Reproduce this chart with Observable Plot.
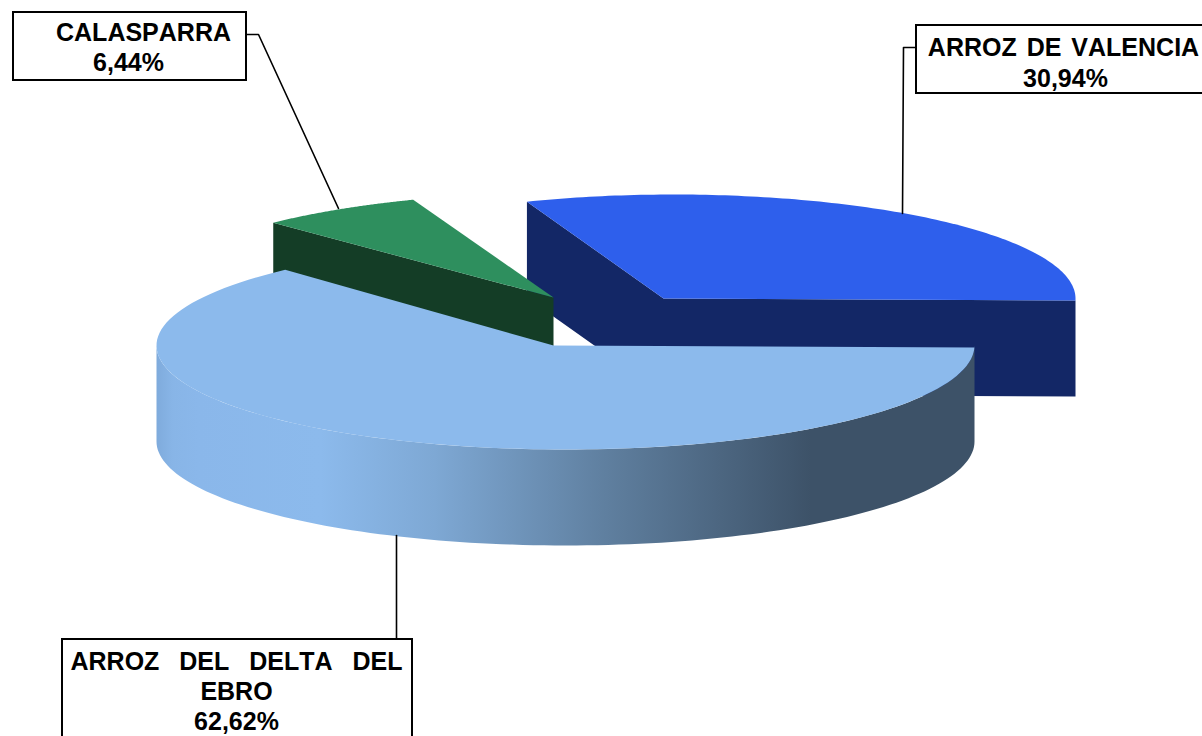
<!DOCTYPE html>
<html>
<head>
<meta charset="utf-8">
<script src="https://cdn.jsdelivr.net/npm/d3@7"></script>
<script src="https://cdn.jsdelivr.net/npm/@observablehq/plot@0.6"></script>
<style>html,body{margin:0;padding:0;background:#fff}svg{display:block}</style>
</head>
<body>
<div id="chart"></div>
<script>
// ---- data ----
const categories = ["ARROZ DE VALENCIA", "CALASPARRA", "ARROZ DEL DELTA DEL EBRO"];
const shares = [30.94, 6.44, 62.62];
const shareLabels = ["30,94%", "6,44%", "62,62%"];

// ---- layout (pixels of the picture) ----
const W = 1202, H = 736;
const depth = 96;
// vx,vy: apex of the slice; cx,rx,ry: ellipse of its rim
const pies = [
  {vx: 663, vy: 298, cx: 673, rx: 402, ry: 104, top: "#2e5fec", side: "#132766"},
  {vx: 553, vy: 297, cx: 564, rx: 415, ry: 105, top: "#2e8f5e", side: "#143d26"},
  {vx: 553, vy: 345, cx: 565, rx: 409, ry: 104, top: "#8cbaec", side: "url(#sideGrad)"}
];
const tilt = 2;
const deltaStartNudge = -1.3;
const gradStops = [[0, "#7fabdc"], [0.02, "#88b5e7"], [0.05, "#8ab7ea"], [0.2, "#8cbaec"], [0.34, "#7ea8d4"], [0.55, "#5f7f9f"], [0.8, "#3d5268"], [1, "#3d5268"]];

// ---- geometry from the shares ----
const toRad = d => d * Math.PI / 180;
let acc = 0;
const slices = shares.map((v, i) => {
  const a0 = acc; acc += v;
  return {i, a0: a0 * 3.6, a1: acc * 3.6};   // degrees counter-clockwise from east
});
const ex = (i, a) => pies[i].cx + pies[i].rx * Math.cos(toRad(a));
const ey = (i, a) => pies[i].vy - pies[i].ry * Math.sin(toRad(a));

const poly = [];
function add(id, fill, pts) { pts.forEach(p => poly.push({id, fill, x: p[0], y: p[1]})); }

const arc = (i, a0, a1, dy = 0) => d3.range(0, 121).map(k => {
  const a = a0 + (a1 - a0) * k / 120;
  return [ex(i, a), ey(i, a) + dy];
});

// Valencia: wall then top
{
  const s = slices[0], p = pies[0];
  const e = [ex(0, s.a1), ey(0, s.a1)];
  const r = [ex(0, 0), ey(0, 0) + tilt];
  add("v-w", p.side, [e, [p.vx, p.vy], r, [r[0], r[1] + depth], [p.vx, p.vy + depth], [e[0], e[1] + depth]]);
  add("v-top", p.top, [[p.vx, p.vy], ...arc(0, s.a1, s.a0), r]);
}
// Calasparra: wall then top
{
  const s = slices[1], p = pies[1];
  const e = [ex(1, s.a1), ey(1, s.a1)];
  add("c-w", p.side, [e, [p.vx, p.vy], [p.vx, p.vy + depth], [e[0], e[1] + depth]]);
  add("c-top", p.top, [[p.vx, p.vy], ...arc(1, s.a0, s.a1)]);
}
// Delta: outer wall then top
{
  const s = slices[2], p = pies[2];
  add("d-w", p.side, [...arc(2, 180, 360), ...arc(2, 360, 180, depth)]);
  add("d-top", p.top, [[p.vx, p.vy], ...arc(2, s.a0 + deltaStartNudge, s.a1), [ex(2, 0), ey(2, 0) + tilt]]);
}

// ---- labels ----
const boxes = [
  {x1: 13, x2: 246, y1: 12, y2: 80},
  {x1: 916, x2: 1210, y1: 25, y2: 93},
  {x1: 62, x2: 412, y1: 639, y2: 745}
];
const leaders = [
  {id: 0, x: 246, y: 34}, {id: 0, x: 258, y: 34}, {id: 0, x: 338, y: 208},
  {id: 1, x: 916, y: 47}, {id: 1, x: 903, y: 47}, {id: 1, x: 902, y: 213},
  {id: 2, x: 396, y: 639}, {id: 2, x: 396, y: 535}
];
const texts = [
  {t: categories[1], x: 143, y: 32},
  {t: shareLabels[1], x: 128, y: 62},
  {t: categories[0], x: 1063, y: 47},
  {t: shareLabels[0], x: 1065, y: 78},
  {t: "ARROZ DEL DELTA DEL", x: 236, y: 661},
  {t: "EBRO", x: 236, y: 691},
  {t: shareLabels[2], x: 236, y: 721}
];
const wordSpacing = {"ARROZ DEL DELTA DEL": 13, [categories[0]]: 3};

const defs = () => {
  const d = d3.create("svg:defs");
  const g = d.append("linearGradient").attr("id", "sideGrad")
    .attr("gradientUnits", "userSpaceOnUse").attr("x1", 156).attr("x2", 974).attr("y1", 0).attr("y2", 0);
  gradStops.forEach(s => g.append("stop").attr("offset", s[0]).attr("stop-color", s[1]));
  return d.node();
};

const plot = Plot.plot({
  width: W, height: H, margin: 0,
  x: {type: "identity", axis: null},
  y: {type: "identity", axis: null},
  style: {background: "#fff", fontFamily: "'Liberation Sans', Arial, sans-serif", fontKerning: "none"},
  marks: [
    defs,
    Plot.line(poly, {x: "x", y: "y", z: "id", fill: d => d.fill, stroke: "none", curve: "linear"}),
    Plot.line(leaders, {x: "x", y: "y", z: "id", stroke: "#000", strokeWidth: 1.6}),
    Plot.rect(boxes, {x1: "x1", x2: "x2", y1: "y1", y2: "y2", fill: "#fff", stroke: "#000", strokeWidth: 2}),
    Plot.text(texts, {x: "x", y: "y", text: "t", fontSize: 25, fontWeight: "bold", fill: "#000", textAnchor: "middle"})
  ]
});
document.getElementById("chart").append(plot);
d3.select(plot).selectAll("text").each(function () {
  const ws = wordSpacing[this.textContent];
  if (ws) this.setAttribute("word-spacing", ws);
});
</script>
</body>
</html>
